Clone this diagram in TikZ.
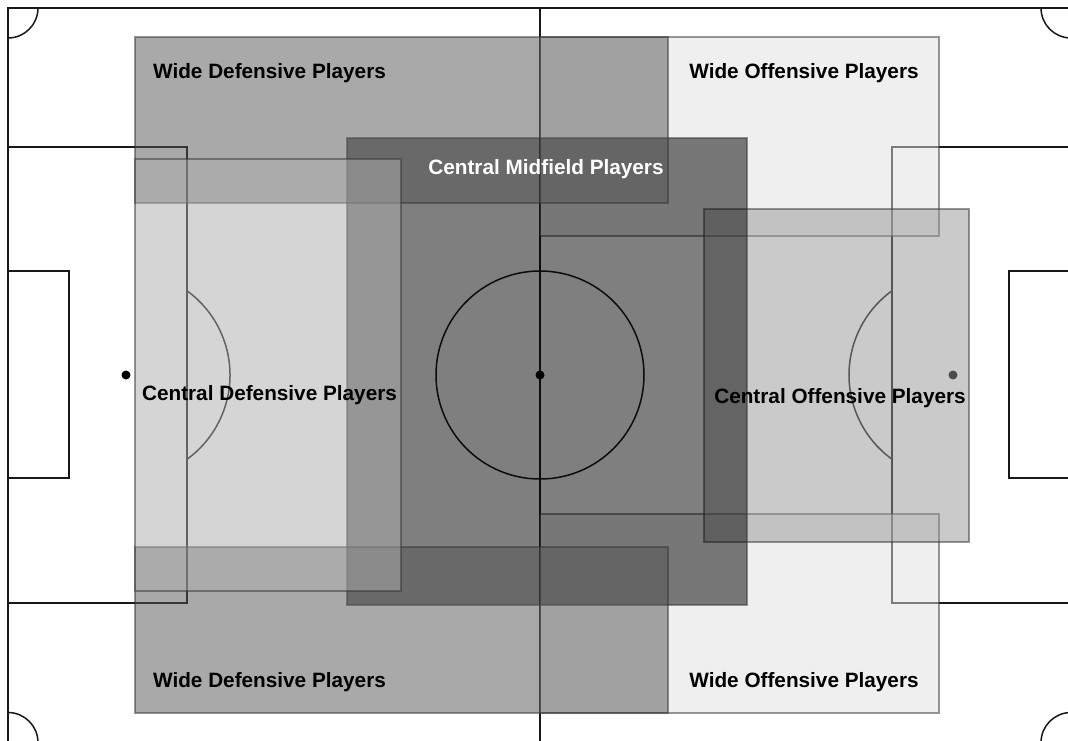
\documentclass[tikz,border=0pt]{standalone}
\usepackage{fontspec}
\setmainfont{Liberation Sans}

\begin{document}
\begin{tikzpicture}[x=1pt, y=-1pt,
        pitchline/.style={draw=black!90, line width=1.5pt},
        zone/.style={draw=black!80, line width=1.2pt, opacity=0.5},
        lbl/.style={font=\bfseries\fontsize{20.75}{24}\selectfont, inner sep=0pt, anchor=base},
    ]
    \clip (0,0) rectangle (1068,740);
    \fill[white] (0,0) rectangle (1068,740);

    % ---- Pitch markings ----
    \draw[pitchline] (8,8) rectangle (1071,742.5);
    \draw[pitchline] (540,8) -- (540,742.5);
    \draw[pitchline] (540,375) circle[radius=104];
    \fill[black] (540,375) circle[radius=4.5];

    % left half
    \draw[pitchline] (8,147) rectangle (187,603);
    \draw[pitchline] (8,271) rectangle (69,478);
    \fill[black] (126,375) circle[radius=4.5];
    \draw[pitchline] (187,290.8) arc[start angle=-54.1, end angle=54.1, radius=104];

    % right half
    \draw[pitchline] (892,147) rectangle (1071,603);
    \draw[pitchline] (1009,271) rectangle (1071,478);
    \fill[black] (953,375) circle[radius=4.5];
    \draw[pitchline] (892,459.2) arc[start angle=125.9, end angle=234.1, radius=104];

    % corner arcs
    \draw[pitchline] (8,38) arc[start angle=90, end angle=0, radius=30];
    \draw[pitchline] (1041,8) arc[start angle=180, end angle=90, radius=30];
    \draw[pitchline] (8,712.5) arc[start angle=270, end angle=360, radius=30];
    \draw[pitchline] (1041,742.5) arc[start angle=180, end angle=270, radius=30];

    % ---- Zones (drawn back to front) ----
    \filldraw[zone, fill=black!12] (540,37) rectangle (939,236);
    \filldraw[zone, fill=black!12] (540,514) rectangle (939,713);
    \filldraw[zone, fill=black!41] (704,209) rectangle (969,542);
    \filldraw[zone, fill=black] (347,138) rectangle (747,605);
    \filldraw[zone, fill=black!67] (135,37) rectangle (668,203);
    \filldraw[zone, fill=black!67] (135,547) rectangle (668,713);
    \filldraw[zone, fill=black!32] (135,159) rectangle (401,591);

    % ---- Zone labels ----
    \node[lbl] (wdtop) at (269.5,78) {Wide Defensive Players};
    \node[lbl] (wotop) at (804,78) {Wide Offensive Players};
    \node[lbl, text=white] (cmid) at (546,174) {Central Midfield Players};
    \node[lbl] (cdef) at (269.5,400) {Central Defensive Players};
    \node[lbl] (coff) at (840,403) {Central Offensive Players};
    \node[lbl] (wdbot) at (269.5,687) {Wide Defensive Players};
    \node[lbl] (wobot) at (804,687) {Wide Offensive Players};

\end{tikzpicture}
\end{document}
